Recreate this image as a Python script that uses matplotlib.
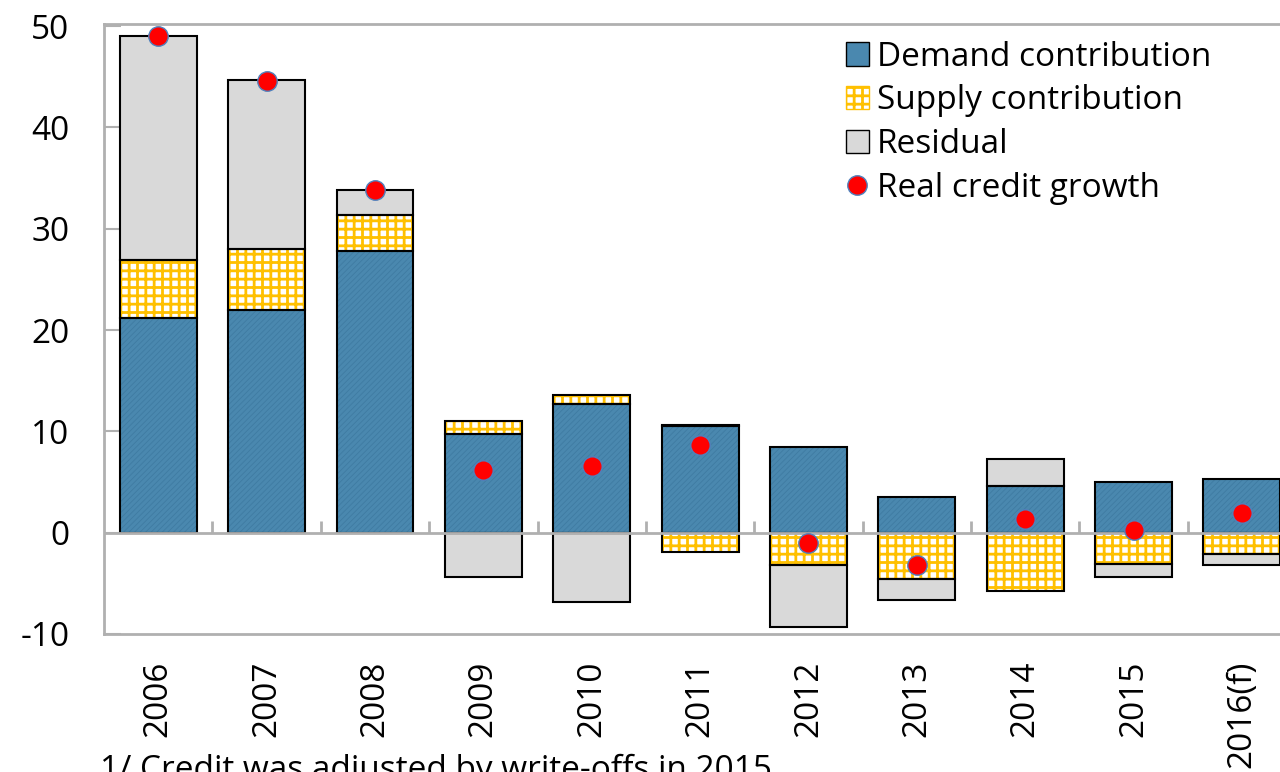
import matplotlib
matplotlib.use('Agg')
import matplotlib.pyplot as plt
import numpy as np
from matplotlib.patches import Patch
from matplotlib.lines import Line2D

plt.rcParams['font.family'] = ['Open Sans', 'DejaVu Sans']

years = ['2006', '2007', '2008', '2009', '2010', '2011', '2012', '2013', '2014', '2015', '2016(f)']
demand = [21.2, 22.0, 27.8, 9.7, 12.7, 10.5, 8.5, 3.5, 4.6, 5.0, 5.3]
supply = [5.7, 6.0, 3.6, 1.3, 0.9, -1.9, -3.2, -4.6, -5.8, -3.1, -2.1]
residual = [22.1, 16.7, 2.4, -4.4, -6.8, 0.1, -6.1, -2.0, 2.7, -1.3, -1.1]
real_growth = [49.0, 44.6, 33.8, 6.2, 6.6, 8.7, -1.0, -3.2, 1.3, 0.3, 1.9]

x = np.arange(len(years))
w = 0.71
blue = '#4A88AF'
gold = '#FFC000'
grey = '#D9D9D9'
fs = 24

# stack positives up from zero, negatives down from zero
pos_base = np.zeros(len(x))
neg_base = np.zeros(len(x))
def stack(vals):
    vals = np.array(vals, dtype=float)
    base = np.where(vals >= 0, pos_base, neg_base)
    pos_base[:] += np.where(vals >= 0, vals, 0)
    neg_base[:] += np.where(vals < 0, vals, 0)
    return vals, base

fig = plt.figure(figsize=(12.8, 7.72), dpi=100)
ax = fig.add_axes([0.0813, 0.1788, 0.9313, 0.790])

d_vals, d_base = stack(demand)
s_vals, s_base = stack(supply)
r_vals, r_base = stack(residual)

plt.rcParams['hatch.linewidth'] = 0.6
ax.bar(x, d_vals, w, bottom=d_base, color=blue, edgecolor='#3F7BA2', hatch='//////', linewidth=0, zorder=2)
plt.rcParams['hatch.linewidth'] = 2.0
ax.bar(x, s_vals, w, bottom=s_base, color='white', edgecolor=gold, hatch='++', linewidth=0, zorder=2)
ax.bar(x, r_vals, w, bottom=r_base, color=grey, linewidth=0, zorder=2)
for vals, base in [(d_vals, d_base), (s_vals, s_base), (r_vals, r_base)]:
    ax.bar(x, vals, w, bottom=base, fill=False, edgecolor='black', linewidth=1.5, zorder=3)

ax.plot(x, real_growth, 'o', color='red', markeredgecolor='#4F81BD', markersize=14, markeredgewidth=1, zorder=5)

ax.axhline(0, color='#B0B0B0', lw=2, zorder=4)
ax.vlines(x[:-1] + 0.5, 0, 1.2, color='#B0B0B0', lw=2, zorder=4)

ax.set_xlim(-0.5, len(x) - 0.5)
ax.set_ylim(-10, 50.2)
ax.set_yticks(range(-10, 51, 10))
ax.set_yticklabels([str(v) for v in range(-10, 51, 10)], fontsize=fs)
ax.tick_params(axis='y', direction='in', length=12, color='#B0B0B0', width=1.5, pad=25)
ax.set_xticks(x)
ax.set_xticklabels(years, rotation=90, fontsize=fs)
ax.tick_params(axis='x', length=0, pad=19)
for s in ['left', 'top', 'bottom', 'right']:
    ax.spines[s].set_color('#B0B0B0')
    ax.spines[s].set_linewidth(2)

handles = [
    Patch(facecolor=blue, edgecolor='black', label='Demand contribution'),
    Patch(facecolor='white', edgecolor=gold, hatch='++', label='Supply contribution'),
    Patch(facecolor=grey, edgecolor='black', label='Residual'),
    Line2D([], [], marker='o', ls='', color='red', markeredgecolor='#4F81BD', markersize=14, label='Real credit growth'),
]
ax.legend(handles=handles, loc='upper left', bbox_to_anchor=(0.608, 1.0), frameon=False,
          fontsize=fs, handlelength=0.7, handleheight=0.7, handletextpad=0.25, labelspacing=0.32,
          borderaxespad=0.1)

fig.text(0.078, 0.002, '1/ Credit was adjusted by write-offs in 2015', fontsize=fs, va='center')

fig.savefig('out.png', dpi=100)
